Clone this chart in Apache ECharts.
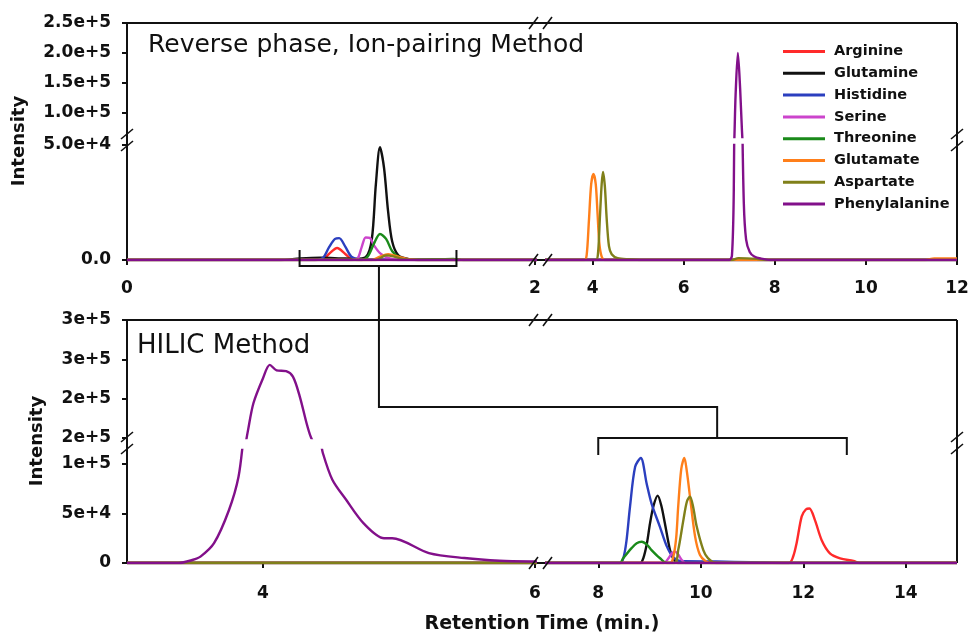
<!DOCTYPE html>
<html><head><meta charset="utf-8">
<script src="https://cdn.jsdelivr.net/npm/echarts@6.0.0/dist/echarts.min.js"></script>
<style>html,body{margin:0;padding:0;background:#fff}#c{width:972px;height:638px}</style>
</head><body><div id="c"></div><script>
// ---------- names & colours ----------
const names = ['Arginine','Glutamine','Histidine','Serine','Threonine','Glutamate','Aspartate','Phenylalanine'];
const colors = ['#ff2a2a','#111111','#2b3fbf','#cc44cc','#1a8a1a','#ff7f1a','#80801a','#82108a'];

// ---------- Reverse phase, ion-pairing (top panel) : [time(min), intensity] ----------
const rpArginine = [[0,0],[0.9,0],[0.96,300],[0.99,2600],[1.03,5200],[1.07,2600],[1.1,400],[1.15,0],[2,0],[3,0],[12,0]];
const rpGlutamine = [[0,0],[0.75,0],[0.85,700],[0.95,1000],[1.05,700],[1.12,500],[1.17,1200],[1.2,9000],[1.22,33000],[1.24,49000],[1.26,40000],[1.28,21000],[1.3,8000],[1.33,2000],[1.38,400],[1.45,0],[2,0],[3,0],[12,0]];
const rpHistidine = [[0,0],[0.92,0],[0.96,900],[0.99,5500],[1.02,9200],[1.04,9500],[1.07,5800],[1.1,1500],[1.14,400],[1.25,200],[1.35,0],[2,0],[3,0],[12,0]];
const rpSerine = [[0,0],[1.1,0],[1.13,600],[1.15,5500],[1.17,9800],[1.19,9600],[1.21,6500],[1.24,3000],[1.28,900],[1.33,0],[2,0],[3,0],[12,0]];
const rpThreonine = [[0,0],[1.15,0],[1.18,1500],[1.21,7000],[1.24,11300],[1.27,9200],[1.3,3800],[1.34,900],[1.4,200],[1.5,300],[1.6,500],[1.65,0],[2,0],[3,0],[12,0]];
const rpGlutamate = [[0,0],[1.2,0],[1.24,1500],[1.28,2500],[1.33,1500],[1.38,300],[1.45,0],[2,0],[3,0],[3.82,0],[3.87,2000],[3.92,17000],[3.97,33000],[4.02,37400],[4.07,33000],[4.11,20000],[4.15,7000],[4.2,1500],[4.27,0],[11.3,0],[11.5,700],[12,700]];
const rpAspartate = [[0,0],[1.22,0],[1.27,2000],[1.31,1500],[1.36,300],[1.42,0],[2,0],[3,0],[4.07,0],[4.12,3000],[4.16,18000],[4.2,33000],[4.23,38300],[4.27,32000],[4.31,18000],[4.36,6000],[4.42,2500],[4.55,800],[4.8,300],[5.1,0],[7.05,0],[7.2,800],[7.6,500],[7.8,0],[12,0]];
const rpPhenylalanine = [[0,0],[2,0],[3,0],[7.0,0],[7.06,2000],[7.1,30000],[7.14,130000],[7.19,200000],[7.24,140000],[7.28,70000],[7.32,25000],[7.37,9000],[7.45,3500],[7.55,1500],[7.7,600],[7.9,0],[12,0]];

// ---------- HILIC (bottom panel) ----------
const hilicArginine = [[3,0],[6,0],[7,0],[11.72,0],[11.8,6000],[11.87,20000],[11.97,47000],[12.05,54000],[12.12,55000],[12.23,43000],[12.36,23000],[12.52,9800],[12.72,4700],[12.98,2000],[13.1,0],[15,0]];
const hilicGlutamine = [[3,0],[6,0],[7,0],[8.82,0],[8.88,5000],[8.95,20000],[9.01,40000],[9.08,58000],[9.16,68000],[9.23,58000],[9.3,40000],[9.4,13000],[9.46,5000],[9.55,0],[15,0]];
const hilicHistidine = [[3,0],[6,0],[7,0],[8.42,0],[8.49,5000],[8.55,22000],[8.62,57000],[8.72,97000],[8.83,106000],[8.945,80000],[9.04,60000],[9.2,37000],[9.34,16500],[9.46,6000],[9.6,2000],[10.3,1500],[11,800],[11.7,0],[15,0]];
const hilicSerine = [[3,0],[6,0],[7,0],[9.28,0],[9.36,4000],[9.44,10000],[9.5,11500],[9.56,8500],[9.63,3000],[9.7,0],[15,0]];
const hilicThreonine = [[3,0],[6,0],[7,0],[8.42,0],[8.49,5000],[8.65,15000],[8.75,20000],[8.85,21500],[8.95,18500],[9.04,13000],[9.2,5000],[9.34,0],[15,0]];
const hilicGlutamate = [[3,0],[6,0],[7,0],[9.4,0],[9.46,5000],[9.52,25000],[9.56,57000],[9.62,95000],[9.68,106000],[9.73,92000],[9.79,67000],[9.89,26600],[9.985,8000],[10.1,1500],[10.2,0],[15,0]];
const hilicAspartate = [[3,0],[6,0],[7,0],[9.48,0],[9.56,13000],[9.66,43000],[9.73,62000],[9.79,67000],[9.85,57000],[9.92,37000],[10.05,13000],[10.14,5000],[10.3,0],[15,0]];
const hilicPhenylalanine = [[3,0],[3.38,0],[3.48,3000],[3.54,6400],[3.64,20000],[3.75,53500],[3.82,87000],[3.86,130000],[3.89,160000],[3.93,194500],[4.0,226000],[4.05,243000],[4.1,236000],[4.17,235000],[4.22,228000],[4.27,203000],[4.32,169000],[4.35,152000],[4.42,125000],[4.44,111000],[4.51,84000],[4.61,64000],[4.74,40000],[4.89,25000],[4.95,25000],[5.22,10000],[5.48,5000],[5.74,2300],[6.0,1500],[7,0],[15,0]];

// ---------- axis ranges & tick labels ----------
const rpXRanges = [[0,2],[3,12]];
const rpYRanges = [[0,50000],[60000,250000]];
const rpXTicks = [[0,2],[4,6,8,10,12]];
const rpYTicks = [[0,50000],[100000,150000,200000,250000]];
const hilicXRanges = [[3,6],[7,15]];
const hilicYRanges = [[0,114000],[150000,300000]];
const hilicXTicks = [[4,6],[8,10,12,14]];
const hilicYTicks = [[0,50000,100000],[150000,200000,250000,300000]];

const rpData = [rpArginine,rpGlutamine,rpHistidine,rpSerine,rpThreonine,rpGlutamate,rpAspartate,rpPhenylalanine];
const hilicData = [hilicArginine,hilicGlutamine,hilicHistidine,hilicSerine,hilicThreonine,hilicGlutamate,hilicAspartate,hilicPhenylalanine];

// ---------- layout (pixels) ----------
const FONT = 'DejaVu Sans';
const L = 127, X1R = 535, X2L = 547, R = 957;
const panels = [
  {xr: rpXRanges, yr: rpYRanges, xt: rpXTicks, yt: rpYTicks, data: rpData,
   yPix: [[145,260],[23,137]], xMargin: 20,
   fmt: v => v === 0 ? '0.0' : v.toExponential(1)},
  {xr: hilicXRanges, yr: hilicYRanges, xt: hilicXTicks, yt: hilicYTicks, data: hilicData,
   yPix: [[450,563],[320,438]], xMargin: 22,
   fmt: v => v === 0 ? '0' : v.toExponential(0)}
];

const grid = [], xAxis = [], yAxis = [], series = [];
const lblStyle = {color:'#111', fontFamily: FONT, fontWeight:'bold', fontSize:17};
const tickStyle = {color:'#111', width:2};
panels.forEach((P, p) => {
  [0,1].forEach(s => {
    [0,1].forEach(v => {
      const g = grid.length;
      const left = s ? X2L : L, right = s ? R : X1R;
      grid.push({left: left, width: right - left, top: P.yPix[v][0], height: P.yPix[v][1] - P.yPix[v][0]});
      xAxis.push({type:'value', gridIndex:g, min:P.xr[s][0], max:P.xr[s][1], show: v === 0,
        axisLine:{show:false}, splitLine:{show:false},
        axisTick:{show:true, customValues:P.xt[s], length:5, lineStyle:tickStyle},
        axisLabel:Object.assign({customValues:P.xt[s], margin:P.xMargin}, lblStyle)});
      yAxis.push({type:'value', gridIndex:g, min:P.yr[v][0], max:P.yr[v][1], show: s === 0,
        axisLine:{show:false}, splitLine:{show:false},
        axisTick:{show:true, customValues:P.yt[v], length:5, lineStyle:tickStyle},
        axisLabel:Object.assign({customValues:P.yt[v], margin:16, formatter:P.fmt}, lblStyle)});
      names.forEach((n, i) => {
        series.push({type:'line', name:n, xAxisIndex:g, yAxisIndex:g, data:P.data[i], z:3,
          showSymbol:false, symbol:'none', smooth:0.3, clip:true, silent:true,
          itemStyle:{color:colors[i]}, lineStyle:{color:colors[i], width:2.4}});
      });
    });
  });
});

// pixel helpers for frame / annotation
function xp(p, s, t){ const P = panels[p]; const a = s ? X2L : L, b = s ? R : X1R;
  return a + (t - P.xr[s][0]) / (P.xr[s][1] - P.xr[s][0]) * (b - a); }

const K = '#111';
const graphic = [];
function ln(x1,y1,x2,y2,w,z){ graphic.push({type:'line', z: z === undefined ? 50 : z, shape:{x1,y1,x2,y2}, style:{stroke:K, lineWidth:w||2}}); }
function pl(pts){ graphic.push({type:'polyline', z:50, shape:{points:pts}, style:{stroke:K, lineWidth:2, fill:null}}); }
function hBreak(cx, y){ ln(cx-12, y+6, cx-3, y-6, 1.6); ln(cx+2, y+6, cx+11, y-6, 1.6); }
function vBreak(x, cy){ ln(x-6, cy-2, x+6, cy-12, 1.6); ln(x-6, cy+10, x+6, cy, 1.6); }
[[23,260,141],[320,563,444]].forEach(f => {
  const [yt, yb, ybr] = f;
  ln(L, yt, R, yt, 2, 0); ln(L, yb, R, yb, 2, 0); ln(L, yt, L, yb, 2, 0); ln(R, yt, R, yb, 2, 0);
  const cx = (X1R + X2L) / 2;
  hBreak(cx, yt); hBreak(cx, yb); vBreak(L, ybr); vBreak(R, ybr);
});
// brackets linking the two methods
const b1a = xp(0,0,0.846), b1b = xp(0,0,1.615), b1c = xp(0,0,1.235);
const b2a = xp(1,1,8.0), b2b = xp(1,1,12.85), b2c = xp(1,1,10.32);
pl([[b1a,250],[b1a,266],[b1b,266],[b1b,250]]);
pl([[b1c,266],[b1c,407],[b2c,407],[b2c,438]]);
pl([[b2a,455],[b2a,438],[b2b,438],[b2b,455]]);
// texts
graphic.push({type:'text', z:60, x:148, y:45, style:{text:'Reverse phase, Ion-pairing Method', font:'25px "DejaVu Sans"', fill:K, verticalAlign:'middle'}});
graphic.push({type:'text', z:60, x:137, y:346, style:{text:'HILIC Method', font:'26px "DejaVu Sans"', fill:K, verticalAlign:'middle'}});
graphic.push({type:'text', z:60, x:19, y:141, rotation:Math.PI/2, style:{text:'Intensity', font:'bold 18px "DejaVu Sans"', fill:K, align:'center', verticalAlign:'middle'}});
graphic.push({type:'text', z:60, x:37, y:441, rotation:Math.PI/2, style:{text:'Intensity', font:'bold 18px "DejaVu Sans"', fill:K, align:'center', verticalAlign:'middle'}});
graphic.push({type:'text', z:60, x:542, y:624, style:{text:'Retention Time (min.)', font:'bold 19px "DejaVu Sans"', fill:K, align:'center', verticalAlign:'middle'}});

const chart = echarts.init(document.getElementById('c'), null, {renderer:'canvas'});
chart.setOption({
  backgroundColor:'#fff',
  animation:false,
  grid, xAxis, yAxis, series, graphic,
  legend:{data:names, orient:'vertical', left:778, top:39, icon:'rect', itemWidth:42, itemHeight:3, itemGap:6.8,
    selectedMode:false,
    textStyle:{fontFamily:FONT, fontWeight:'bold', fontSize:14.5, color:'#111', lineHeight:14, padding:[0,0,0,4]}}
});
</script></body></html>
